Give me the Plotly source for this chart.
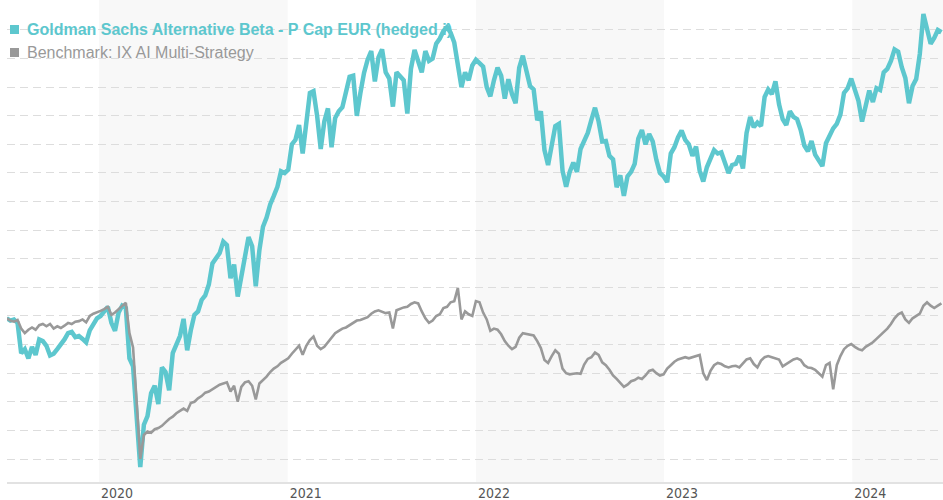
import pandas as pd
import plotly.graph_objects as go

dates = pd.date_range("2019-07-06", periods=260, freq="7D")

fund_name = "Goldman Sachs Alternative Beta - P Cap EUR (hedged i)"
bench_name = "Benchmark: IX AI Multi-Strategy"

fund = [
    99.6, 99.2, 99.4, 98.8, 93.5, 94.2, 92.6, 94.6, 93.2, 95.9,
    95.6, 94.8, 93.1, 93.4, 94.2, 95.0, 95.9, 97.0, 97.2, 96.3,
    96.5, 96.0, 95.4, 97.5, 98.4, 99.6, 100.0, 100.8, 101.6, 98.8,
    97.4, 100.6, 101.8, 101.4, 92.6, 91.2, 82.0, 73.6, 81.0, 82.5,
    86.5, 87.8, 84.6, 91.0, 90.2, 87.0, 93.5, 94.8, 96.5, 99.5,
    94.0, 97.5, 100.2, 100.8, 102.8, 103.6, 105.5, 109.2, 110.0, 111.0,
    113.0, 112.4, 106.6, 109.0, 103.4, 106.8, 110.5, 113.8, 112.2, 105.2,
    111.5, 115.6, 117.2, 119.5, 121.0, 122.6, 125.3, 125.0, 125.6, 130.0,
    130.8, 133.4, 128.4, 134.5, 139.0, 139.3, 135.0, 129.2, 134.0, 136.3,
    129.5, 134.6, 135.8, 136.5, 139.5, 141.8, 142.0, 135.0, 139.0, 142.5,
    144.8, 146.3, 141.0, 145.2, 146.6, 142.6, 141.5, 136.6, 142.6, 141.8,
    141.2, 135.4, 143.2, 146.5, 144.4, 142.6, 146.3, 144.6, 145.0, 147.6,
    148.5, 149.8, 150.5, 149.5, 147.8, 143.4, 140.0, 142.6, 141.2, 143.8,
    144.8, 144.2, 143.6, 140.0, 138.4, 141.2, 143.4, 142.0, 138.0, 141.4,
    138.8, 137.2, 143.4, 145.5, 142.6, 140.2, 139.6, 134.2, 135.8, 129.0,
    126.4, 130.0, 133.2, 133.6, 125.4, 122.6, 125.2, 126.8, 125.2, 129.2,
    130.6, 132.0, 134.3, 136.4, 134.0, 130.5, 130.6, 128.0, 127.4, 122.5,
    124.6, 121.0, 124.4, 125.2, 126.6, 131.0, 132.5, 130.0, 131.8, 130.5,
    127.3, 125.0, 124.4, 123.4, 128.4, 129.5, 131.2, 132.4, 130.8, 130.0,
    128.0, 129.6, 125.4, 123.5, 126.0, 127.6, 129.0, 128.4, 128.6, 126.8,
    125.0, 126.4, 126.6, 128.0, 125.8, 132.0, 134.8, 133.0, 133.8, 133.2,
    138.3, 139.6, 138.8, 141.0, 137.0, 134.4, 133.4, 135.8, 134.8, 134.4,
    132.5, 129.8, 128.8, 130.6, 128.2, 127.2, 126.2, 130.2, 131.6, 132.8,
    133.6, 135.2, 139.0, 139.8, 141.5, 139.8, 137.6, 134.0, 137.0, 139.4,
    137.4, 139.8, 139.5, 142.6, 143.2, 144.6, 146.6, 146.2, 143.5, 141.6,
    137.2, 140.2, 141.4, 145.8, 152.8, 150.4, 147.6, 148.6, 150.0, 149.6,
]

bench = [
    99.6, 99.2, 99.0, 99.3, 97.8, 97.0, 97.6, 98.0, 97.6, 98.4,
    98.6, 98.2, 98.6, 97.8, 98.2, 97.9, 98.3, 98.8, 98.6, 99.0,
    99.1, 99.4, 98.9, 100.0, 100.4, 100.6, 100.9, 101.2, 101.6, 100.2,
    100.6, 101.2, 101.8, 102.3, 97.0, 94.5, 85.0, 75.0, 79.2, 79.8,
    79.6, 80.2, 80.4, 80.8, 81.4, 82.0, 82.4, 83.0, 83.4, 83.8,
    83.4, 84.8, 85.0, 85.6, 86.0, 86.6, 86.8, 87.2, 87.6, 88.0,
    88.2, 88.4, 86.8, 87.8, 85.0, 87.6, 88.4, 88.6, 87.8, 85.4,
    88.2, 88.8, 89.4, 90.2, 90.8, 91.2, 91.8, 92.2, 92.6, 93.4,
    94.2, 94.8, 93.2, 94.8, 95.8, 96.4, 94.8, 94.2, 94.6, 95.4,
    96.0, 97.0, 97.4, 97.8, 98.0, 98.4, 98.8, 99.2, 99.3, 99.6,
    99.8, 100.4, 100.8, 101.0, 100.8, 100.5, 100.6, 97.8, 101.0, 101.3,
    101.5, 101.6, 102.1, 102.4, 102.2, 100.8, 99.6, 98.8, 99.2, 100.0,
    100.3, 101.4, 101.6, 102.4, 102.6, 104.9, 99.4, 100.8, 100.3, 100.0,
    102.6, 102.4, 100.6, 99.4, 97.4, 97.8, 97.6, 96.8, 95.6, 94.8,
    94.2, 94.6, 96.2, 97.0, 96.9, 96.7, 96.6, 95.6, 94.4, 92.3,
    91.8, 93.0, 94.0, 93.4, 90.8, 90.0, 89.8, 89.9, 90.0, 89.9,
    91.5, 92.5, 92.8, 93.6, 93.2, 91.9, 91.4, 90.6, 89.6, 89.0,
    88.3, 87.6, 88.0, 88.6, 88.8, 89.2, 89.0, 89.6, 90.4, 90.6,
    90.0, 89.6, 89.8, 90.8, 91.4, 92.0, 92.4, 92.6, 92.8, 92.6,
    92.8, 93.0, 93.2, 90.0, 88.8, 90.4, 91.4, 91.8, 91.6, 91.2,
    91.0, 91.2, 91.3, 91.0, 91.8, 92.4, 92.6, 91.6, 91.0, 92.2,
    92.8, 93.0, 92.8, 92.6, 92.4, 91.2, 91.6, 92.0, 92.4, 92.6,
    92.3, 91.4, 91.0, 90.9, 90.6, 90.0, 89.4, 91.4, 91.8, 87.2,
    91.4, 93.0, 94.2, 94.8, 95.1, 94.6, 94.2, 94.0, 94.6, 95.0,
    95.4, 96.0, 96.6, 97.2, 97.8, 98.6, 99.6, 100.3, 100.6, 99.4,
    98.8, 99.6, 100.0, 100.4, 101.8, 102.4, 101.8, 101.4, 101.8, 102.2,
]

year_ticks = ["2020-01-01", "2021-01-01", "2022-01-01", "2023-01-01", "2024-01-01"]
year_labels = ["2020", "2021", "2022", "2023", "2024"]
shaded_years = [("2020-01-01", "2021-01-01"), ("2022-01-01", "2023-01-01"), ("2024-01-01", "2024-06-25")]
grid_levels = list(range(75, 151, 5))

TEAL = "#5dc7ce"
GREY = "#999999"

fig = go.Figure()
fig.add_trace(go.Scatter(x=dates, y=fund, mode="lines", name=fund_name,
                         line=dict(color=TEAL, width=4.5), hoverinfo="skip"))
fig.add_trace(go.Scatter(x=dates, y=bench, mode="lines", name=bench_name,
                         line=dict(color=GREY, width=2.6), hoverinfo="skip"))

for a, b in shaded_years:
    fig.add_shape(type="rect", xref="x", yref="paper", x0=a, x1=b, y0=0, y1=1,
                  fillcolor="#f8f8f8", line=dict(width=0), layer="below")

# legend built as annotations + square swatches
W_PLOT = 936.0
H_PLOT = 482.0
def px_x(p):
    return (p - 7) / W_PLOT
def px_y(p):
    return 1 - p / H_PLOT

for ypx, col in [(29.5, TEAL), (52.5, GREY)]:
    fig.add_shape(type="rect", xref="paper", yref="paper",
                  x0=px_x(10), x1=px_x(19), y0=px_y(ypx + 4.5), y1=px_y(ypx - 4.5),
                  fillcolor=col, line=dict(width=0), layer="above")

fig.add_annotation(x=px_x(25), y=px_y(29.5), xref="paper", yref="paper",
                   xanchor="left", yanchor="middle", showarrow=False,
                   text="<b>" + fund_name + "</b>",
                   font=dict(family="Liberation Sans, Arial, sans-serif", size=16, color=TEAL))
fig.add_annotation(x=px_x(25), y=px_y(52.5), xref="paper", yref="paper",
                   xanchor="left", yanchor="middle", showarrow=False,
                   text=bench_name,
                   font=dict(family="Liberation Sans, Arial, sans-serif", size=16, color=GREY))

fig.update_layout(
    width=943, height=500,
    margin=dict(l=7, r=0, t=0, b=18),
    plot_bgcolor="white", paper_bgcolor="white",
    showlegend=False,
    xaxis=dict(
        type="date",
        range=["2019-07-06 12:00", "2024-06-25"],
        tickvals=year_ticks, ticktext=year_labels,
        ticks="", showgrid=False, zeroline=False,
        showline=True, linecolor="#e2e2e2", linewidth=2,
        ticklabelshift=18, ticklabelstandoff=-3,
        tickfont=dict(family="Liberation Sans Narrow, DejaVu Sans Condensed, Arial, sans-serif", size=14, color="#555555"),
    ),
    yaxis=dict(
        range=[70.98, 155.24],
        tickvals=grid_levels, showticklabels=False, ticks="",
        showgrid=True, gridcolor="#dddddd", gridwidth=1, griddash="8px,5px",
        zeroline=False, showline=False,
    ),
)

fig.write_html(
    "out.html",
    config={"displayModeBar": False},
    post_script="document.body.style.margin='0';document.body.style.overflow='hidden';",
)
